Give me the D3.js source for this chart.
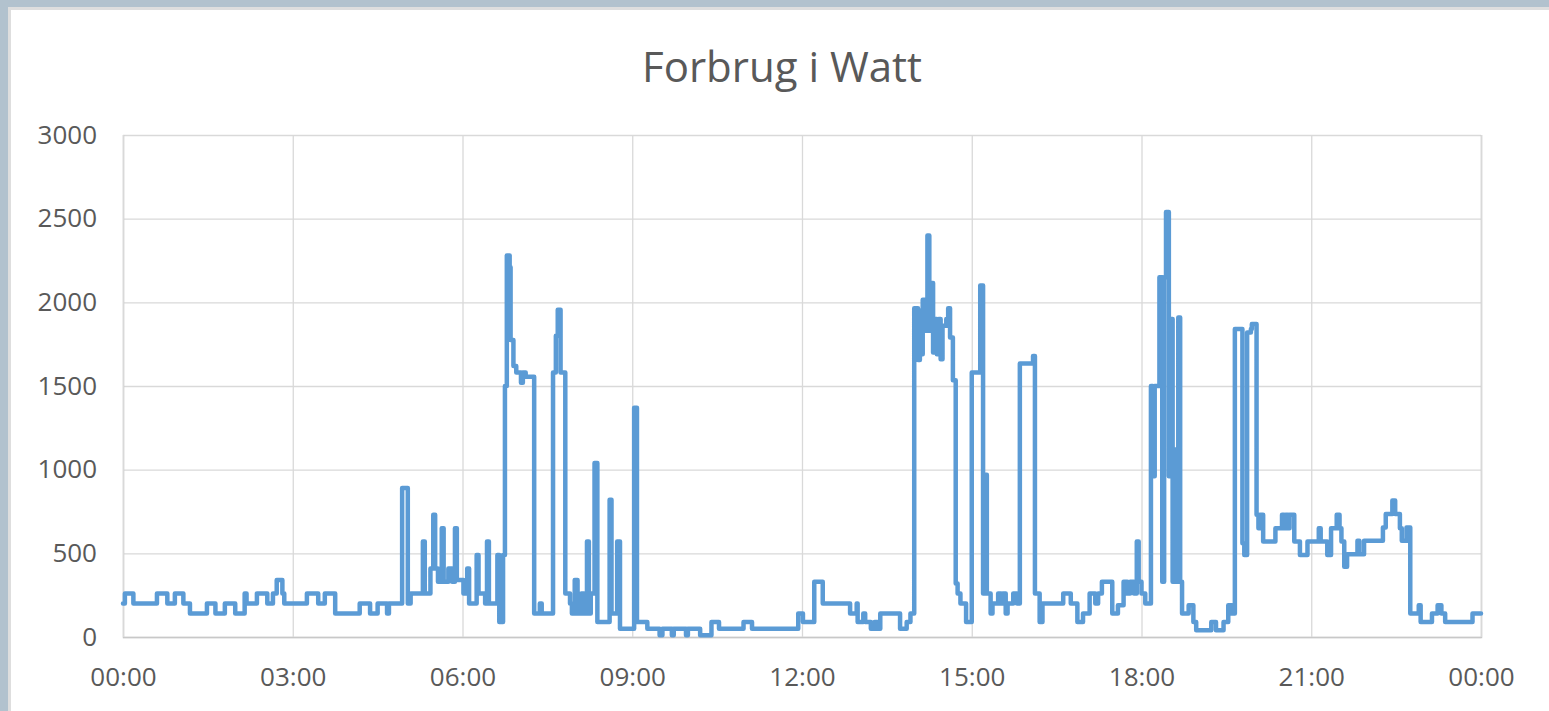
<!DOCTYPE html>
<html>
<head>
<meta charset="utf-8">
<script src="https://cdn.jsdelivr.net/npm/d3@7"></script>
<style>
  html, body { margin: 0; padding: 0; background: #b3c3cf; }
  svg { display: block; }
</style>
</head>
<body>
<svg id="chart"></svg>
<script>
// Forbrug i Watt, change points: from this time on the meter reads this many watts
const times = [
  '00:00','00:02','00:11','00:36','00:47','00:55','01:04','01:11','01:29','01:38',
  '01:48','01:59','02:09','02:11','02:22','02:33','02:39','02:43','02:49','02:51',
  '03:15','03:27','03:34','03:45','04:11','04:22','04:30','04:40','04:42','04:56',
  '05:02','05:05','05:18','05:20','05:26','05:29','05:31','05:34','05:38','05:40',
  '05:45','05:49','05:52','05:54','06:01','06:05','06:07','06:15','06:17','06:24',
  '06:26','06:28','06:37','06:39','06:43','06:45','06:47','06:50','06:51','06:54',
  '06:57','07:02','07:04','07:07','07:16','07:22','07:24','07:36','07:39','07:41',
  '07:44','07:49','07:54','07:56','07:59','08:02','08:06','08:09','08:12','08:14',
  '08:16','08:20','08:23','08:36','08:38','08:44','08:47','09:02','09:05','09:16',
  '09:29','09:32','09:42','09:44','09:57','09:59','10:12','10:24','10:32','10:58',
  '11:07','11:56','12:01','12:13','12:22','12:51','12:58','12:59','13:05','13:07',
  '13:13','13:17','13:20','13:23','13:44','13:51','13:55','13:59','14:03','14:05',
  '14:07','14:08','14:11','14:13','14:15','14:17','14:19','14:21','14:23','14:25',
  '14:27','14:29','14:33','14:35','14:37','14:40','14:43','14:45','14:48','14:54',
  '15:00','15:09','15:12','15:14','15:16','15:20','15:22','15:28','15:31','15:33',
  '15:36','15:38','15:44','15:48','15:51','16:05','16:07','16:12','16:15','16:37',
  '16:45','16:52','16:58','17:05','17:11','17:14','17:18','17:29','17:35','17:41',
  '17:45','17:48','17:52','17:55','17:57','18:00','18:04','18:10','18:12','18:14',
  '18:19','18:22','18:24','18:26','18:29','18:31','18:33','18:35','18:37','18:39',
  '18:41','18:43','18:50','18:55','18:58','19:14','19:19','19:27','19:32','19:36',
  '19:39','19:47','19:49','19:52','19:56','19:57','20:02','20:04','20:06','20:09',
  '20:22','20:29','20:31','20:33','20:35','20:37','20:42','20:48','20:56','21:08',
  '21:10','21:17','21:21','21:27','21:30','21:32','21:35','21:38','21:49','21:51',
  '21:56','22:16','22:19','22:26','22:29','22:34','22:36','22:41','22:45','22:54',
  '22:56','23:08','23:14','23:18','23:22','23:51','24:00'
]
const watts = [
  200,260,200,260,200,260,200,140,200,140,
  200,140,260,200,260,200,260,340,260,200,
  260,200,260,140,200,140,200,140,200,890,
  200,260,570,260,410,730,410,330,650,330,
  410,330,650,340,260,410,200,490,260,200,
  570,200,490,90,490,1500,2280,2210,1775,1620,
  1580,1520,1580,1555,140,200,140,1580,1800,1955,
  1580,260,200,140,340,140,260,140,570,140,
  260,1040,90,820,140,570,50,1370,90,50,
  10,50,10,50,10,50,10,90,50,90,
  50,140,90,330,200,140,200,90,140,90,
  50,90,50,140,50,90,140,1965,1655,1950,
  1690,2015,1830,2400,1830,2115,1700,1900,1690,1900,
  1660,1860,1900,1965,1790,1535,320,260,200,90,
  1580,2100,260,970,260,140,200,260,200,260,
  140,200,260,200,1635,1680,260,90,200,260,
  200,90,140,260,200,260,330,140,190,330,
  260,330,260,570,330,260,200,1500,960,1500,
  2150,330,2150,2540,960,1900,330,1120,330,1910,
  330,140,190,90,40,90,40,90,190,140,
  1840,560,490,1820,1840,1870,730,650,730,570,
  650,730,650,730,650,730,570,490,570,650,
  570,490,650,730,650,570,420,495,575,495,
  575,655,735,815,735,650,575,655,140,190,
  90,140,190,140,90,140,140
]
const xTickLabels = ['00:00','03:00','06:00','09:00','12:00','15:00','18:00','21:00','00:00']
const yTicks = [0, 500, 1000, 1500, 2000, 2500, 3000]
const title = 'Forbrug i Watt'

const W = 1549, H = 711
const margin = { left: 123, right: W - 1481, top: 135, bottom: H - 637 }
const font = "'Open Sans', 'Noto Sans', sans-serif"
const textColor = '#595959'

const toMinutes = s => {
  const [h, m] = s.split(':').map(Number)
  return h * 60 + m
}
const data = times.map((t, i) => ({ t: toMinutes(t), v: watts[i] }))

const svg = d3.select('#chart').attr('width', W).attr('height', H)

// window frame around the chart
svg.append('rect').attr('x', 0).attr('y', 0).attr('width', W).attr('height', H).attr('fill', '#b2c2ce')
svg.append('rect').attr('x', 8).attr('y', 7).attr('width', W - 8).attr('height', H - 7).attr('fill', '#dedede')
svg.append('rect').attr('x', 11).attr('y', 10).attr('width', W - 11).attr('height', H - 10).attr('fill', '#ffffff')

const x = d3.scaleLinear().domain([0, 1440]).range([margin.left, W - margin.right])
const y = d3.scaleLinear().domain([0, 3000]).range([H - margin.bottom, margin.top])

const xTicks = d3.range(0, 1441, 180)

// horizontal grid + y labels
const yAxis = svg.append('g')
  .attr('transform', `translate(${margin.left},0)`)
  .call(d3.axisLeft(y).tickValues(yTicks).tickFormat(d3.format('d'))
    .tickSize(-(W - margin.left - margin.right)).tickPadding(26))
yAxis.select('.domain').remove()
yAxis.selectAll('.tick line').attr('stroke', '#d9d9d9').attr('stroke-width', 1.3)
yAxis.selectAll('.tick text')
  .attr('fill', textColor).attr('font-family', font).attr('font-size', 26)

// vertical grid + x labels
const xAxis = svg.append('g')
  .attr('transform', `translate(0,${H - margin.bottom})`)
  .call(d3.axisBottom(x).tickValues(xTicks)
    .tickFormat((d, i) => xTickLabels[i])
    .tickSize(-(H - margin.top - margin.bottom)).tickPadding(31))
xAxis.select('.domain').attr('stroke', '#c8c8c8').attr('stroke-width', 1.5)
xAxis.selectAll('.tick line').attr('stroke', '#d9d9d9').attr('stroke-width', 1.3)
xAxis.selectAll('.tick text')
  .attr('fill', textColor).attr('font-family', font).attr('font-size', 26)

// the series
const line = d3.line()
  .x(d => x(d.t))
  .y(d => y(d.v))
  .curve(d3.curveStepAfter)

svg.append('path')
  .datum(data)
  .attr('d', line)
  .attr('fill', 'none')
  .attr('stroke', '#5b9bd5')
  .attr('stroke-width', 4.5)
  .attr('stroke-linejoin', 'round')
  .attr('stroke-linecap', 'round')

svg.append('text')
  .attr('x', 782).attr('y', 82)
  .attr('text-anchor', 'middle')
  .attr('fill', textColor)
  .attr('font-family', font)
  .attr('font-size', 42)
  .text(title)
</script>
</body>
</html>
